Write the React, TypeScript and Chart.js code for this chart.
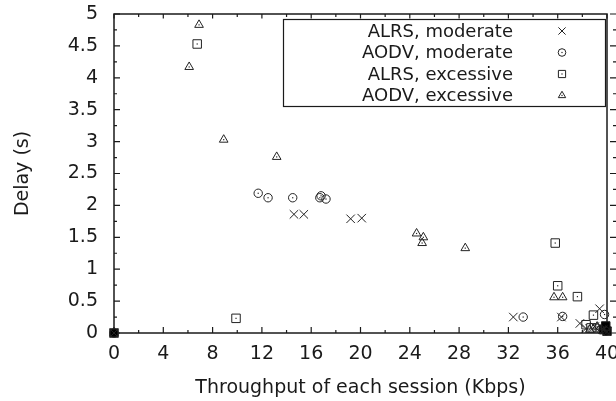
import React, { useEffect, useRef } from 'react';
import { Chart, registerables } from 'chart.js';

Chart.register(...registerables);

// ---------- data ----------
const seriesLabels = ['ALRS, moderate', 'AODV, moderate', 'ALRS, excessive', 'AODV, excessive'];

const alrsModerateX = [0, 14.6, 15.4, 19.2, 20.1, 32.4, 36.3, 37.8, 38.3, 39.0, 39.4, 39.7, 40];
const alrsModerateY = [0, 1.86, 1.86, 1.79, 1.8, 0.25, 0.25, 0.15, 0.07, 0.1, 0.38, 0.05, 0.02];

const aodvModerateX = [0, 11.7, 12.5, 14.5, 16.7, 16.8, 17.2, 33.2, 36.4, 39.8, 39.1, 39.5, 39.9];
const aodvModerateY = [0, 2.19, 2.12, 2.12, 2.12, 2.15, 2.1, 0.25, 0.26, 0.29, 0.08, 0.05, 0.03];

const alrsExcessiveX = [0, 6.75, 9.9, 35.8, 36.0, 37.6, 38.9, 38.3, 38.7, 39.7, 40, 39.9];
const alrsExcessiveY = [0, 4.53, 0.23, 1.41, 0.74, 0.57, 0.28, 0.13, 0.08, 0.06, 0.03, 0.11];

const aodvExcessiveX = [0, 6.1, 6.9, 8.9, 13.2, 24.55, 25.1, 25.0, 28.5, 35.7, 36.4, 38.6, 39.2, 39.8];
const aodvExcessiveY = [0, 4.17, 4.83, 3.03, 2.76, 1.56, 1.5, 1.41, 1.33, 0.56, 0.56, 0.05, 0.1, 0.04];

const xTicks = [0, 4, 8, 12, 16, 20, 24, 28, 32, 36, 40];
const yTicks = [0, 0.5, 1, 1.5, 2, 2.5, 3, 3.5, 4, 4.5, 5];

const xTitle = 'Throughput of each session (Kbps)';
const yTitle = 'Delay (s)';

// ---------- styles ----------
const FONT = "'DejaVu Sans', sans-serif";
const INK = '#1a1a1a';
const MARK = '#222';

const pointStyles = ['crossRot', 'circle', 'rect', 'triangle'];
const pointRadii = [6, 4.2, 6, 5];
const centerDot = [false, true, true, true];

const toPts = (xs: number[], ys: number[]) => xs.map((x, i) => ({ x, y: ys[i] }));

function drawMarker(ctx: CanvasRenderingContext2D, style: string, x: number, y: number, r: number) {
  ctx.beginPath();
  if (style === 'crossRot') {
    const d = r * Math.SQRT1_2;
    ctx.moveTo(x - d, y - d);
    ctx.lineTo(x + d, y + d);
    ctx.moveTo(x + d, y - d);
    ctx.lineTo(x - d, y + d);
    ctx.stroke();
    return;
  }
  if (style === 'circle') {
    ctx.arc(x, y, r, 0, Math.PI * 2);
  } else if (style === 'rect') {
    const s = r * Math.SQRT1_2;
    ctx.rect(x - s, y - s, 2 * s, 2 * s);
  } else if (style === 'triangle') {
    let a = 0;
    ctx.moveTo(x + Math.sin(a) * r, y - Math.cos(a) * r);
    a += (2 * Math.PI) / 3;
    ctx.lineTo(x + Math.sin(a) * r, y - Math.cos(a) * r);
    a += (2 * Math.PI) / 3;
    ctx.lineTo(x + Math.sin(a) * r, y - Math.cos(a) * r);
    ctx.closePath();
  }
  ctx.stroke();
  ctx.fillRect(x - 0.6, y - 0.6, 1.2, 1.2);
}

const isFilled = (ds: number, x: number) => ds === 2 && (x === 0 || x >= 39.7);

const framePlugin = {
  id: 'frameTicks',
  beforeDatasetsDraw(chart: any) {
    const { ctx, chartArea } = chart;
    const { left, right, top, bottom } = chartArea;
    const xs = chart.scales.x;
    const ys = chart.scales.y;
    ctx.save();
    ctx.strokeStyle = INK;
    ctx.lineWidth = 1.5;
    ctx.strokeRect(left, top, right - left, bottom - top);
    ctx.lineWidth = 1.2;
    ctx.beginPath();
    // x ticks (major + minor at half steps)
    for (let i = 0; i < xTicks.length; i++) {
      const px = xs.getPixelForValue(xTicks[i]);
      ctx.moveTo(px, bottom); ctx.lineTo(px, bottom - 6);
      ctx.moveTo(px, top); ctx.lineTo(px, top + 4.5);
      if (i < xTicks.length - 1) {
        const mx = xs.getPixelForValue((xTicks[i] + xTicks[i + 1]) / 2);
        ctx.moveTo(mx, bottom); ctx.lineTo(mx, bottom - 3);
        ctx.moveTo(mx, top); ctx.lineTo(mx, top + 3);
      }
    }
    for (let i = 0; i < yTicks.length; i++) {
      const py = ys.getPixelForValue(yTicks[i]);
      ctx.moveTo(left, py); ctx.lineTo(left + 6, py);
      ctx.moveTo(right + 3, py); ctx.lineTo(right + 12, py);
      if (i < yTicks.length - 1) {
        const my = ys.getPixelForValue((yTicks[i] + yTicks[i + 1]) / 2);
        ctx.moveTo(left, my); ctx.lineTo(left + 3, my);
        ctx.moveTo(right + 6, my); ctx.lineTo(right + 12, my);
      }
    }
    ctx.stroke();
    ctx.restore();
  },
  afterDatasetsDraw(chart: any) {
    const { ctx } = chart;
    ctx.save();
    ctx.fillStyle = MARK;
    chart.data.datasets.forEach((ds: any, i: number) => {
      if (!centerDot[i]) return;
      const meta = chart.getDatasetMeta(i);
      meta.data.forEach((el: any) => {
        ctx.fillRect(el.x - 0.6, el.y - 0.6, 1.2, 1.2);
      });
    });
    ctx.restore();
  },
  afterDraw(chart: any) {
    const { ctx } = chart;
    ctx.save();
    const bx = 283.5, by = 19.5, bw = 322, bh = 87;
    ctx.fillStyle = '#fff';
    ctx.fillRect(bx, by, bw, bh);
    ctx.strokeStyle = INK;
    ctx.lineWidth = 1.2;
    ctx.strokeRect(bx, by, bw, bh);
    ctx.font = `18px ${FONT}`;
    ctx.textAlign = 'right';
    ctx.textBaseline = 'middle';
    const rows = [31, 52.5, 74, 95.5];
    chart.data.datasets.forEach((ds: any, i: number) => {
      ctx.fillStyle = INK;
      ctx.fillText(ds.label, 513, rows[i] + 1);
      ctx.strokeStyle = MARK;
      ctx.fillStyle = MARK;
      ctx.lineWidth = 1;
      drawMarker(ctx, pointStyles[i], 562, rows[i], i === 1 ? 3.8 : pointRadii[i] * 0.85);
    });
    ctx.restore();
  },
};

export default function App() {
  const ref = useRef<HTMLCanvasElement | null>(null);

  useEffect(() => {
    if (!ref.current) return;
    const seriesData = [
      toPts(alrsModerateX, alrsModerateY),
      toPts(aodvModerateX, aodvModerateY),
      toPts(alrsExcessiveX, alrsExcessiveY),
      toPts(aodvExcessiveX, aodvExcessiveY),
    ];
    const chart = new Chart(ref.current, {
      type: 'scatter',
      data: {
        datasets: seriesData.map((d, i) => ({
          label: seriesLabels[i],
          data: d,
          pointStyle: pointStyles[i] as any,
          pointRadius: pointRadii[i],
          pointHoverRadius: pointRadii[i],
          pointBorderWidth: 1,
          pointBorderColor: MARK,
          pointBackgroundColor: (c: any) =>
            c.raw && isFilled(i, c.raw.x) ? '#000' : 'rgba(0,0,0,0)',
          clip: false as any,
        })),
      },
      options: {
        animation: false,
        responsive: false,
        events: [],
        layout: { padding: { left: 0, right: 9, top: 14, bottom: 0 } },
        plugins: {
          legend: { display: false },
          tooltip: { enabled: false },
        },
        scales: {
          x: {
            type: 'linear',
            min: 0,
            max: 40,
            afterBuildTicks: (s: any) => {
              s.ticks = xTicks.map((v) => ({ value: v }));
            },
            afterFit: (s: any) => {
              s.height = 68;
              s.paddingLeft = 0;
              s.paddingRight = 0;
            },
            ticks: {
              font: { family: FONT, size: 19 },
              color: INK,
              padding: 10,
              maxRotation: 0,
              autoSkip: false,
              callback: (v: any) => String(v),
            },
            grid: { display: false, drawTicks: false },
            border: { display: false },
            title: {
              display: true,
              text: xTitle,
              font: { family: FONT, size: 19 },
              color: INK,
              padding: { top: 0, bottom: 2 },
            },
          },
          y: {
            type: 'linear',
            min: 0,
            max: 5,
            afterBuildTicks: (s: any) => {
              s.ticks = yTicks.map((v) => ({ value: v }));
            },
            afterFit: (s: any) => {
              s.width = 114;
              s.paddingTop = 0;
              s.paddingBottom = 0;
            },
            ticks: {
              font: { family: FONT, size: 19 },
              color: INK,
              padding: 16,
              autoSkip: false,
              callback: (v: any) => String(v),
            },
            grid: { display: false, drawTicks: false },
            border: { display: false },
            title: {
              display: true,
              text: yTitle,
              font: { family: FONT, size: 19 },
              color: INK,
              padding: { top: 12, bottom: 0 },
            },
          },
        },
      },
      plugins: [framePlugin],
    });
    return () => chart.destroy();
  }, []);

  return (
    <div style={{ position: 'absolute', left: 0, top: 0, width: 616, height: 401, background: '#fff' }}>
      <canvas ref={ref} width={616} height={401} style={{ display: 'block' }} />
    </div>
  );
}
